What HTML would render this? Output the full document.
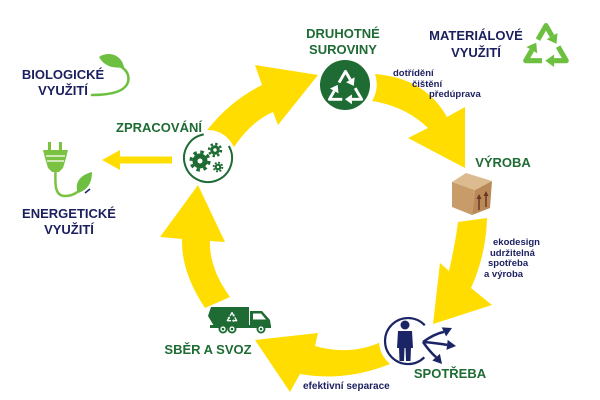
<!DOCTYPE html>
<html>
<head>
<meta charset="utf-8">
<style>
  html,body{margin:0;padding:0;background:#fff;}
  svg{display:block;}
  text{font-family:"Liberation Sans", "DejaVu Sans", sans-serif;font-weight:bold;}
  .big{font-size:13px;text-anchor:middle;}
  .g{fill:#1e6b34;}
  .n{fill:#1b1f5e;}
  .sm{font-size:9.5px;fill:#1b1f5e;}
</style>
</head>
<body>
<svg width="600" height="400" viewBox="0 0 600 400" xmlns="http://www.w3.org/2000/svg">
  <defs>
    <g id="arm">
      <polyline points="-4.16,-4.8 0,-12 3.12,-6.6" fill="none" stroke-linejoin="round" stroke-linecap="butt"/>
      <polygon points="5.37,-2.7 5.89,-8.2 0.35,-5.0" stroke="none"/>
    </g>
    <g id="rc">
      <use href="#arm"/>
      <use href="#arm" transform="rotate(120)"/>
      <use href="#arm" transform="rotate(240)"/>
    </g>
  </defs>

  <rect width="600" height="400" fill="#fff"/>

  <!-- yellow cycle arrows -->
  <g fill="#ffdd00">
    <path d="M205,133 Q228,102 262,85 L255,65 L318,75 L278,125 L273,112 Q250,122 232,150 Z"/>
    <path d="M375,74 Q425,78 447,117 L465,107 L465,168 L408,138 L428,128 Q405,106 372,101 A31.5,31.5 0 0 0 375,74 Z"/>
    <path d="M458,222 L487,218 Q486,255 471,288 L492,305 L433,324 L440,263 L449,271 Q455,245 458,222 Z"/>
    <path d="M381,342 Q350,356 315,346 L318,333 L255,340 L290,392 L300,374 Q345,382 390,364 Z"/>
    <path d="M182,239 L160,237 L198,185 L225,242 L210,241 Q209,268 230,297 L205,308 Q181,272 182,239 Z"/>
    <!-- small arrow to energy -->
    <rect x="118" y="156.5" width="54" height="7"/>
    <polygon points="102,160 120,150 120,170"/>
  </g>

  <!-- halos -->
  <circle cx="208" cy="158" r="28" fill="#fff"/>
  <circle cx="408" cy="341" r="29" fill="#fff"/>

  <!-- gears circle -->
  <path d="M228.8,146 A24,24 0 1 1 203.8,134.4" fill="none" stroke="#1e6b34" stroke-width="2"/>
  <g fill="#1e6b34" stroke="#1e6b34">
    <circle cx="200" cy="161" r="7.5" stroke="none"/>
    <circle cx="200" cy="161" r="9" fill="none" stroke-width="3.2" stroke-dasharray="3.5 3.57"/>
    <circle cx="215" cy="150" r="4.8" stroke="none"/>
    <circle cx="215" cy="150" r="6" fill="none" stroke-width="2.4" stroke-dasharray="2.4 2.31"/>
    <circle cx="218" cy="167" r="3.3" stroke="none"/>
    <circle cx="218" cy="167" r="4.3" fill="none" stroke-width="2" stroke-dasharray="1.8 1.58"/>
  </g>
  <circle cx="200" cy="161" r="2.5" fill="#fff"/>
  <circle cx="215" cy="150" r="1.7" fill="#fff"/>
  <circle cx="218" cy="167" r="1.2" fill="#fff"/>

  <!-- recycle circle -->
  <circle cx="345" cy="85" r="25" fill="#1e6b34"/>
  <g transform="translate(345.5,90) scale(1.55)" fill="#fff" stroke="#fff" stroke-width="1.9">
    <use href="#rc"/>
  </g>

  <!-- material recycle icon -->
  <g transform="translate(546,49) scale(1.95)" fill="#6cbf3f" stroke="#6cbf3f" stroke-width="2.6">
    <use href="#rc"/>
  </g>

  <!-- box -->
  <polygon points="452,182 466,173 492,181 475,190" fill="#dcbb90"/>
  <polygon points="452,182 475,190 472,215 452,207" fill="#c79c68"/>
  <polygon points="475,190 492,181 490,208 472,215" fill="#b98a58"/>
  <g stroke="#6b3526" stroke-width="1.5" fill="#6b3526">
    <line x1="479" y1="210" x2="479" y2="197"/>
    <line x1="486" y1="207" x2="486" y2="194"/>
    <polygon points="479,194 476.5,199 481.5,199" stroke="none"/>
    <polygon points="486,191 483.5,196 488.5,196" stroke="none"/>
  </g>

  <!-- person -->
  <path d="M424.8,325.3 A23,23 0 1 0 424.3,357.3" fill="none" stroke="#1b2566" stroke-width="2.2"/>
  <g fill="#1b2566">
    <circle cx="405" cy="325" r="4.5"/>
    <path d="M398,331 L412,331 L413,348 L411,348 L410.5,361 L406,361 L405.5,348 L404.5,348 L404,361 L399.5,361 L399,348 L397,348 Z"/>
  </g>
  <g stroke="#1b2566" stroke-width="2.5" fill="none">
    <path d="M423,342 Q434,334 443.9,331.9"/>
    <path d="M423,342 Q436,343 447.1,344.9"/>
    <path d="M423,342 Q430,352 436.1,357.2"/>
  </g>
  <g fill="#1b2566">
    <polygon points="452,328 446.1,336.4 441.7,327.4"/>
    <polygon points="456,346 446.5,349.9 447.7,339.9"/>
    <polygon points="442,364 439.9,353.9 432.3,360.5"/>
  </g>

  <!-- truck -->
  <g fill="#1e6b34">
    <polygon points="211,307 249,307 249,326 214,326 208,316"/>
    <path d="M250,311 L262,311 L270,320 L271,327 L250,327 Z"/>
    <rect x="210" y="325" width="61" height="3"/>
    <circle cx="223" cy="329" r="4.5"/>
    <circle cx="232" cy="329" r="4.5"/>
    <circle cx="261" cy="329" r="4.5"/>
  </g>
  <polygon points="253,313.5 261,313.5 266,319.5 253,319.5" fill="#fff"/>
  <g fill="#fff">
    <circle cx="223" cy="329" r="2.6"/>
    <circle cx="232" cy="329" r="2.6"/>
    <circle cx="261" cy="329" r="2.6"/>
  </g>
  <g fill="#1e6b34">
    <circle cx="223" cy="329" r="1.3"/>
    <circle cx="232" cy="329" r="1.3"/>
    <circle cx="261" cy="329" r="1.3"/>
  </g>
  <g transform="translate(232,318) scale(0.45)" fill="#fff" stroke="#fff" stroke-width="3">
    <use href="#rc"/>
  </g>

  <!-- biological leaf swoosh -->
  <path d="M92,95 C110,95 125,92 128,82 C130,74 125,69 120,66" fill="none" stroke="#6cbf3f" stroke-width="2.5" stroke-linecap="round"/>
  <path d="M99,57 C108,51 121,54 124,67 C113,69 104,66 99,57 Z" fill="#6cbf3f"/>

  <!-- plug -->
  <g fill="#7cc242">
    <rect x="48" y="142" width="3" height="9"/>
    <rect x="59" y="142" width="3" height="9"/>
    <path d="M43,150 L68,150 L66,158 L63,168 L59,172 L52,172 L48,168 L45,158 Z"/>
  </g>
  <g stroke="#fff" stroke-width="1.2">
    <line x1="46" y1="156" x2="65" y2="156"/>
    <line x1="47" y1="161" x2="64" y2="161"/>
  </g>
  <path d="M55.5,172 C55,185 55,196 65,196 C74,196 79,191 83,187" fill="none" stroke="#7cc242" stroke-width="2.5"/>
  <path d="M78,193 C74,183 80,175 92,172 C92,182 88,190 78,193 Z" fill="#6cbf3f"/>
  <path d="M85,193 L90,189" stroke="#1b2566" stroke-width="1.5"/>

  <!-- labels -->
  <text class="big n" x="63" y="79">BIOLOGICKÉ</text>
  <text class="big n" x="63" y="95">VYUŽITÍ</text>
  <text class="big g" x="159" y="132">ZPRACOVÁNÍ</text>
  <text class="big n" x="69" y="218">ENERGETICKÉ</text>
  <text class="big n" x="69" y="234">VYUŽITÍ</text>
  <text class="big g" x="343" y="38">DRUHOTNÉ</text>
  <text class="big g" x="343" y="54">SUROVINY</text>
  <text class="big n" x="476" y="40">MATERIÁLOVÉ</text>
  <text class="big n" x="476" y="57">VYUŽITÍ</text>
  <text class="big g" x="503" y="167">VÝROBA</text>
  <text class="big g" x="208" y="354">SBĚR A SVOZ</text>
  <text class="big g" x="450" y="378">SPOTŘEBA</text>

  <text class="sm" x="393" y="76">dotřídění</text>
  <text class="sm" x="412" y="87">čištění</text>
  <text class="sm" x="429" y="97">předúprava</text>
  <text class="sm" x="493" y="245">ekodesign</text>
  <text class="sm" x="490" y="256">udržitelná</text>
  <text class="sm" x="488" y="266">spotřeba</text>
  <text class="sm" x="484" y="277">a výroba</text>
  <text class="sm" x="303" y="389" style="font-size:10px">efektivní separace</text>
</svg>
</body>
</html>
